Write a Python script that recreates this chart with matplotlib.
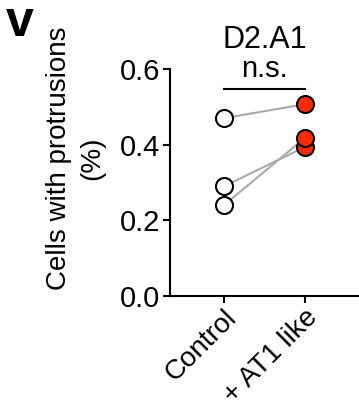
import matplotlib
matplotlib.use("Agg")
import matplotlib.pyplot as plt

plt.rcParams['font.family'] = ['Liberation Sans', 'DejaVu Sans']

categories = ["Control", "+ AT1 like"]
control_vals = [0.47, 0.29, 0.24]
at1_vals = [0.507, 0.394, 0.418]
yticks = [0.0, 0.2, 0.4, 0.6]
ytick_labels = ["0.0", "0.2", "0.4", "0.6"]
title = "D2.A1"
sig_label = "n.s."
ylabel = "Cells with protrusions\n(%)"
panel = "v"

fig = plt.figure(figsize=(3.59, 4.08), dpi=100)
ax = fig.add_axes([170/359, 1-296/408, 1-170/359, (296-69)/408])

for c, a in zip(control_vals, at1_vals):
    ax.plot([0, 1], [c, a], color="#aaaaaa", lw=1.5, zorder=1, clip_on=False)
ax.scatter([0]*len(control_vals), control_vals, s=150, facecolor="white",
           edgecolor="black", linewidth=1.5, zorder=3, clip_on=False)
ax.scatter([1]*len(at1_vals), at1_vals, s=150, facecolor="#ff2a00",
           edgecolor="black", linewidth=1.5, zorder=3, clip_on=False)

ax.set_xlim(-0.667, 1.667)
ax.set_ylim(0, 0.6)
ax.set_yticks(yticks)
ax.set_yticklabels(ytick_labels, fontsize=21)
ax.set_xticks([0, 1])
ax.set_xticklabels(categories, fontsize=20, rotation=45, ha="right",
                   rotation_mode="anchor")
for s in ["top", "right"]:
    ax.spines[s].set_visible(False)
for s in ["left", "bottom"]:
    ax.spines[s].set_linewidth(1.5)
ax.tick_params(axis="y", width=1.5, length=5, pad=2)
ax.tick_params(axis="x", width=1.5, length=5, pad=1)
ax.set_ylabel(ylabel, fontsize=20, linespacing=1.35, va="center", ha="center")
ax.yaxis.set_label_coords(-0.5, 0.608)

ax.plot([0, 1], [0.547, 0.547], color="black", lw=1.5, clip_on=False)
ax.text(0.5, 0.562, sig_label, ha="center", va="bottom", fontsize=21)
ax.text(0.5, 0.638, title, ha="center", va="bottom", fontsize=22)
fig.text(6/359, 1-36/408, panel, fontsize=36, fontweight="bold", ha="left", va="baseline")

fig.savefig("out.png", dpi=100)
